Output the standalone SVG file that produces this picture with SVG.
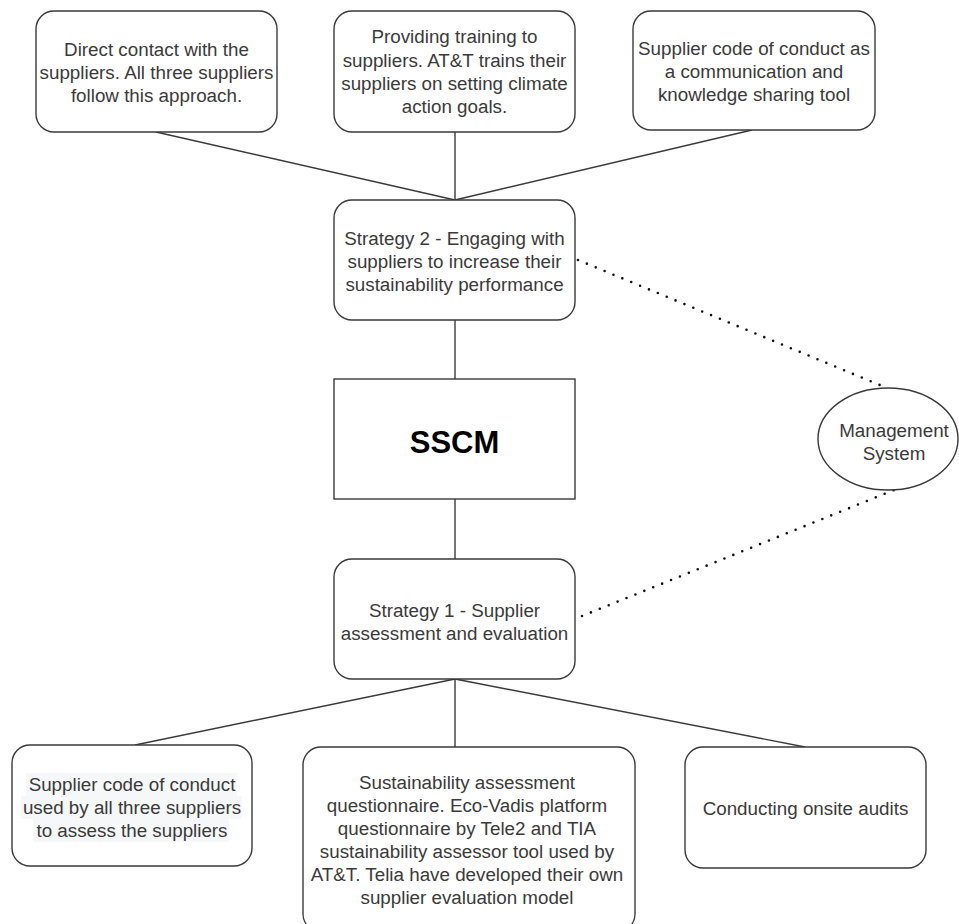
<svg xmlns="http://www.w3.org/2000/svg" width="959" height="924" viewBox="0 0 959 924">
  <style>
    .box { fill: #ffffff; stroke: #3a3a3a; stroke-width: 1.4; }
    .link { fill: none; stroke: #3a3a3a; stroke-width: 1.4; }
    .dot { fill: none; stroke: #111111; stroke-width: 2.6; stroke-linecap: round; stroke-dasharray: 0 9.6; }
    .t { font-family: "Liberation Sans", Arial, Helvetica, sans-serif; font-size: 18.8px; fill: #3a3a3a; text-anchor: middle; }
    .big { font-family: "Liberation Sans", Arial, Helvetica, sans-serif; font-size: 31px; font-weight: bold; fill: #000000; text-anchor: middle; }
    .hl { fill: #f6f7f9; }
  </style>

  <rect width="959" height="924" fill="#ffffff"/>

  <!-- connectors -->
  <g id="connectors">
    <line class="link" x1="156" y1="132" x2="455" y2="200"/>
    <line class="link" x1="455" y1="132" x2="455" y2="200"/>
    <line class="link" x1="752" y1="130" x2="455" y2="200"/>
    <line class="link" x1="455" y1="320" x2="455" y2="379"/>
    <line class="link" x1="455" y1="499" x2="455" y2="559"/>
    <line class="link" x1="455" y1="679" x2="135" y2="745"/>
    <line class="link" x1="455" y1="679" x2="455" y2="747"/>
    <line class="link" x1="455" y1="679" x2="805" y2="747"/>
    <line class="dot" x1="578" y1="260" x2="887" y2="388"/>
    <line class="dot" x1="582" y1="616" x2="894" y2="490"/>
  </g>

  <!-- engagement practices -->
  <g id="direct-contact">
    <rect class="box" x="36" y="11" width="241" height="121" rx="18"/>
    <text class="t" x="156.5" y="56">Direct contact with the</text>
    <text class="t" x="156.5" y="79">suppliers. All three suppliers</text>
    <text class="t" x="156.5" y="102">follow this approach.</text>
  </g>

  <g id="training">
    <rect class="box" x="334" y="11" width="241" height="121" rx="18"/>
    <text class="t" x="454.5" y="43">Providing training to</text>
    <text class="t" x="454.5" y="66.5">suppliers. AT&amp;T trains their</text>
    <text class="t" x="454.5" y="89.5">suppliers on setting climate</text>
    <text class="t" x="454.5" y="113">action goals.</text>
  </g>

  <g id="code-sharing">
    <rect class="box" x="633" y="11" width="242" height="119" rx="18"/>
    <text class="t" x="754" y="55">Supplier code of conduct as</text>
    <text class="t" x="754" y="78">a communication and</text>
    <text class="t" x="754" y="100.5">knowledge sharing tool</text>
  </g>

  <!-- strategies -->
  <g id="strategy-2">
    <rect class="box" x="334" y="200" width="241" height="120" rx="18"/>
    <text class="t" x="454.5" y="245">Strategy 2 - Engaging with</text>
    <text class="t" x="454.5" y="268">suppliers to increase their</text>
    <text class="t" x="454.5" y="290.5">sustainability performance</text>
  </g>

  <g id="sscm">
    <rect class="box" x="334" y="379" width="241" height="120"/>
    <text class="big" x="454.5" y="453">SSCM</text>
  </g>

  <g id="management-system">
    <ellipse class="box" cx="888" cy="439" rx="70" ry="51"/>
    <text class="t" x="894" y="437">Management</text>
    <text class="t" x="894" y="460">System</text>
  </g>

  <g id="strategy-1">
    <rect class="box" x="334" y="559" width="241" height="120" rx="18"/>
    <text class="t" x="454.5" y="617">Strategy 1 - Supplier</text>
    <text class="t" x="454.5" y="640">assessment and evaluation</text>
  </g>

  <!-- assessment practices -->
  <g id="code-assessment">
    <rect class="box" x="12" y="745" width="240" height="121" rx="18"/>
    <rect class="hl" x="26" y="773" width="211" height="23"/>
    <rect class="hl" x="21" y="796" width="221" height="23"/>
    <rect class="hl" x="33" y="819" width="196" height="23"/>
    <text class="t" x="132" y="790.5">Supplier code of conduct</text>
    <text class="t" x="132" y="813.5">used by all three suppliers</text>
    <text class="t" x="132" y="836.5">to assess the suppliers</text>
  </g>

  <g id="questionnaire">
    <rect class="box" x="303" y="747" width="332" height="185" rx="18"/>
    <text class="t" x="467" y="788.5">Sustainability assessment</text>
    <text class="t" x="467" y="811.5">questionnaire. Eco-Vadis platform</text>
    <text class="t" x="467" y="834.5">questionnaire by Tele2 and TIA</text>
    <text class="t" x="467" y="858">sustainability assessor tool used by</text>
    <text class="t" x="467" y="881">AT&amp;T. Telia have developed their own</text>
    <text class="t" x="467" y="903.5">supplier evaluation model</text>
  </g>

  <g id="onsite-audits">
    <rect class="box" x="685" y="747" width="241" height="121" rx="18"/>
    <text class="t" x="805.5" y="814.5">Conducting onsite audits</text>
  </g>
</svg>
